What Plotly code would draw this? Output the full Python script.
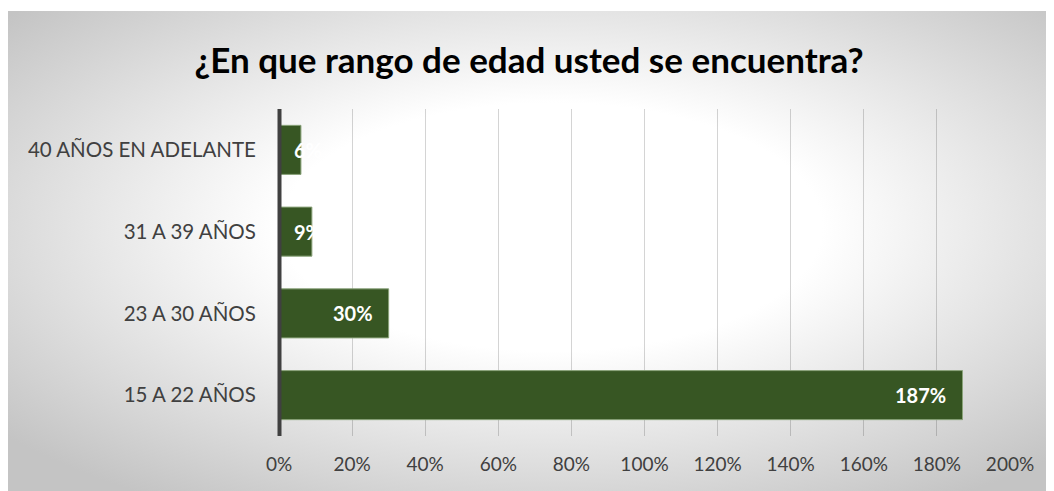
import base64
import plotly.graph_objects as go

# ── Data ───────────────────────────────────────────────────────────────────────
categories = ["15 A 22 AÑOS", "23 A 30 AÑOS", "31 A 39 AÑOS", "40 AÑOS EN ADELANTE"]
values = [187, 30, 9, 6]
x_ticks = [0, 20, 40, 60, 80, 100, 120, 140, 160, 180, 200]
x_tick_labels = [f"{t}%" for t in x_ticks]
title_text = "¿En que rango de edad usted se encuentra?"

# ── Style ──────────────────────────────────────────────────────────────────────
FONT = "Lato"
BAR_COLOR = "#375623"
TEXT_COLOR = "#404040"
OFF = 8                      # page body margin of the browser
W, H = 1054 - OFF, 491 - OFF
# margins in screen pixels, shifted by the body margin
L, R, T, B = 279 - OFF, 1054 - 1010, 109 - OFF, 491 - 436
PW, PH = W - L - R, H - T - B

# radial gradient background of the chart area (Excel style)
svg = (
    '<svg xmlns="http://www.w3.org/2000/svg" width="100" height="100" '
    'viewBox="0 0 100 100" preserveAspectRatio="none">'
    '<defs><radialGradient id="g" cx="0.52" cy="0.45" r="0.68">'
    '<stop offset="0" stop-color="#ffffff"/>'
    '<stop offset="0.38" stop-color="#ffffff"/>'
    '<stop offset="1" stop-color="#c4c4c4"/>'
    '</radialGradient></defs>'
    '<rect width="100" height="100" fill="url(#g)"/></svg>'
)
bg_src = "data:image/svg+xml;base64," + base64.b64encode(svg.encode()).decode()


def px_x(p):
    """screen x pixel -> paper coordinate"""
    return (p - OFF - L) / PW


def px_y(p):
    """screen y pixel -> paper coordinate"""
    return (H - B - (p - OFF)) / PH


fig = go.Figure()
fig.add_trace(go.Bar(
    y=categories, x=values, orientation="h",
    marker=dict(color=BAR_COLOR, line=dict(color="#8aa37a", width=1)),
    width=0.6,
    hoverinfo="skip",
))

# value labels: inside end, or from the bar start when the bar is too short
annotations = []
for cat, v in zip(categories, values):
    if v >= 15:
        annotations.append(dict(x=v, y=cat, xref="x", yref="y", text=f"<b>{v}%</b>",
                                showarrow=False, xanchor="right", xshift=-14,
                                font=dict(family=FONT, size=20, color="white")))
    else:
        annotations.append(dict(x=0, y=cat, xref="x", yref="y", text=f"<b>{v}%</b>",
                                showarrow=False, xanchor="left", xshift=13,
                                font=dict(family=FONT, size=20, color="white")))

fig.update_layout(
    width=W, height=H,
    margin=dict(l=L, r=R, t=T, b=B),
    paper_bgcolor="white",
    plot_bgcolor="rgba(0,0,0,0)",
    showlegend=False,
    font=dict(family=FONT, color=TEXT_COLOR),
    title=dict(text=f"<b>{title_text}</b>", x=px_x(529), xref="paper", xanchor="center",
               y=1 - (61 - OFF) / H, yref="container", yanchor="middle",
               font=dict(family=FONT, size=35, color="black")),
    xaxis=dict(range=[0, 200], tickvals=x_ticks, ticktext=x_tick_labels,
               showgrid=True, gridcolor="rgba(0,0,0,0.17)", gridwidth=1,
               zeroline=False, showline=False,
               ticks="outside", ticklen=11, tickcolor="rgba(0,0,0,0)",
               tickfont=dict(family=FONT, size=19, color=TEXT_COLOR)),
    yaxis=dict(showgrid=False, zeroline=False, showline=False,
               ticks="outside", ticklen=18, tickcolor="rgba(0,0,0,0)",
               tickfont=dict(family=FONT, size=20.5, color=TEXT_COLOR)),
    images=[dict(source=bg_src, xref="paper", yref="paper",
                 x=px_x(8), y=px_y(11), sizex=(1054 - 8) / PW, sizey=(491 - 11) / PH,
                 xanchor="left", yanchor="top", sizing="stretch", layer="below")],
    # vertical category axis line (paper ref so it is not clipped to the plot area)
    shapes=[dict(type="line", xref="paper", yref="paper", x0=px_x(279.5), x1=px_x(279.5),
                 y0=0, y1=1, line=dict(color="#404040", width=4))],
    annotations=annotations,
)

fig.write_html("out.html")
